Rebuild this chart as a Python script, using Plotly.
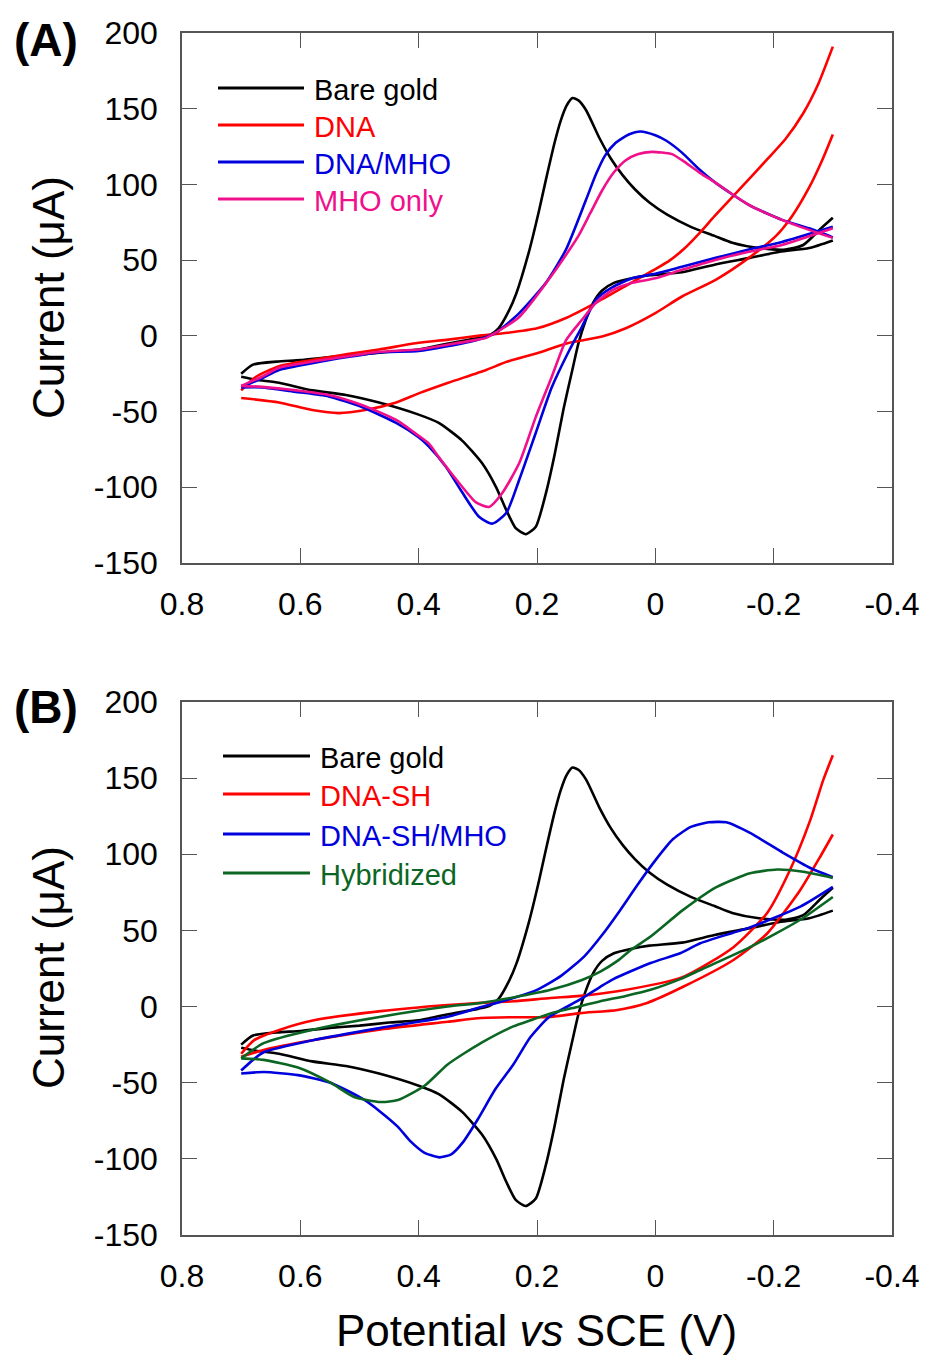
import plotly.graph_objects as go

# ---------------- data (potential in V, current in uA) ----------------
# Bare gold (identical in both panels)
bare_fwd_E = [0.70, 0.68, 0.64, 0.60, 0.55, 0.50, 0.45, 0.40, 0.35, 0.30, 0.28, 0.265, 0.247, 0.235, 0.214,
              0.197, 0.185, 0.17, 0.16, 0.15, 0.14, 0.13, 0.117, 0.095, 0.075, 0.055, 0.035, 0.01, -0.02,
              -0.06, -0.10, -0.13, -0.175, -0.22, -0.25, -0.28, -0.30]
bare_fwd_I = [-25, -19, -17, -16, -14, -12.5, -10.5, -9, -5, -1.5, 0.5, 5, 17, 28, 55,
              82, 103, 128, 142, 152, 157, 155.5, 149, 131, 117, 106, 97, 88, 80,
              72, 66, 61.5, 58, 57, 60, 71, 78]
bare_rev_E = [-0.30, -0.26, -0.21, -0.16, -0.10, -0.045, 0.01, 0.04, 0.07, 0.09, 0.105, 0.118, 0.13, 0.14,
              0.155, 0.17, 0.185, 0.202, 0.219, 0.236, 0.252, 0.269, 0.293, 0.327, 0.366, 0.40, 0.467,
              0.523, 0.58, 0.636, 0.675, 0.70]
bare_rev_I = [63, 58, 55.5, 51.5, 47, 42, 40, 38, 35, 30, 22, 10, -5, -22,
              -48, -78, -104, -126, -131, -127, -115, -100, -84, -69, -57.5, -52, -44,
              -39, -36, -31, -29, -27]

# Panel A: DNA
dna_fwd_E = [0.70, 0.675, 0.636, 0.58, 0.52, 0.467, 0.40, 0.35, 0.30, 0.25, 0.20, 0.15, 0.10, 0.05, 0.0,
             -0.025, -0.05, -0.075, -0.10, -0.15, -0.19, -0.22, -0.25, -0.275, -0.30]
dna_fwd_I = [-36, -27, -20, -16, -12, -9, -4.6, -2.5, 0, 2, 5, 12, 22, 33, 44,
             50, 58, 68, 79, 100, 117, 130, 147, 166, 191]
dna_rev_E = [-0.30, -0.282, -0.26, -0.231, -0.204, -0.158, -0.102, -0.045, 0.0, 0.05, 0.09, 0.15, 0.20,
             0.25, 0.286, 0.35, 0.40, 0.438, 0.49, 0.535, 0.58, 0.636, 0.70]
dna_rev_I = [133, 116, 98, 79, 66, 51.5, 37, 26, 15, 5, -0.5, -5, -11.5,
             -17, -22.5, -31, -38, -44, -49, -51, -49, -44, -41]

# Panel A: DNA/MHO
dnamho_fwd_E = [0.70, 0.665, 0.636, 0.58, 0.52, 0.467, 0.40, 0.354, 0.30, 0.27, 0.23, 0.185, 0.151,
                0.117, 0.10, 0.085, 0.067, 0.045, 0.025, 0.0, -0.018, -0.045, -0.074, -0.102, -0.158,
                -0.214, -0.26, -0.30]
dnamho_fwd_I = [-34, -28, -22.5, -18, -14, -11, -10, -7, -2.5, 2, 15, 35, 57,
                90, 107, 119, 127.5, 133, 135, 132.5, 129, 121, 110, 101, 86.5,
                76.6, 71, 65]
dnamho_rev_E = [-0.30, -0.214, -0.158, -0.102, -0.045, 0.0, 0.039, 0.073, 0.10, 0.124, 0.146, 0.175,
                0.202, 0.23, 0.252, 0.276, 0.298, 0.327, 0.354, 0.383, 0.40, 0.438, 0.496, 0.552, 0.607,
                0.665, 0.70]
dnamho_rev_I = [72, 62, 57, 51.5, 45.6, 41, 38, 32, 24, 6, -10, -34,
                -64, -95, -117, -124, -119.5, -103, -86.5, -73, -67, -57.5, -47, -40, -37,
                -34, -34]

# Panel A: MHO only
mho_fwd_E = [0.70, 0.665, 0.636, 0.58, 0.52, 0.467, 0.40, 0.354, 0.30, 0.286, 0.23, 0.175, 0.15, 0.13,
             0.11, 0.09, 0.07, 0.05, 0.03, 0.006, -0.028, -0.045, -0.074, -0.102, -0.158, -0.214, -0.26,
             -0.30]
mho_fwd_I = [-33, -27, -21, -17, -13.5, -10.5, -9, -6, -2.5, -1.3, 12.5, 40, 54, 66,
             81, 96, 108, 116, 120, 121.5, 120, 116, 108, 101, 86.5, 76.6, 70,
             64.7]
mho_rev_E = [-0.30, -0.214, -0.158, -0.10, -0.045, 0.0, 0.039, 0.073, 0.10, 0.124, 0.151, 0.175, 0.202,
             0.23, 0.259, 0.281, 0.303, 0.332, 0.366, 0.383, 0.40, 0.438, 0.496, 0.552, 0.607, 0.665, 0.70]
mho_rev_I = [71, 60, 55.5, 50, 43.6, 38, 35, 30, 22, 10.6, -3, -27, -53.5,
             -84, -104, -113, -110, -97, -80, -71, -66, -55.5, -45.6, -39, -36, -33.7, -33]

# Panel B: DNA-SH
dnash_fwd_E = [0.70, 0.678, 0.633, 0.577, 0.464, 0.351, 0.295, 0.24, 0.177, 0.127, 0.064, -0.047,
               -0.132, -0.189, -0.228, -0.262, -0.284, -0.30]
dnash_fwd_I = [-31, -22, -15, -9, -3, 1, 2.4, 3.5, 5.6, 7, 10, 19.5,
               39, 61.5, 90, 122.6, 149, 165]
dnash_rev_E = [-0.30, -0.278, -0.245, -0.189, -0.132, -0.047, 0.014, 0.064, 0.127, 0.177, 0.24, 0.295,
               0.351, 0.464, 0.577, 0.662, 0.70]
dnash_rev_I = [113, 98, 76.6, 48, 30.6, 13, 2.4, -2.2, -4.3, -6.8, -7, -7.5,
               -10, -15, -22, -28.5, -33]

# Panel B: DNA-SH/MHO
dnashmho_fwd_E = [0.70, 0.68, 0.662, 0.577, 0.464, 0.351, 0.30, 0.24, 0.20, 0.16, 0.12, 0.09, 0.06,
                  0.03, 0.0, -0.03, -0.06, -0.09, -0.12, -0.16, -0.216, -0.262, -0.30]
dnashmho_fwd_I = [-42, -35, -30, -22, -14, -6.7, -1, 5.6, 11, 20, 33, 47, 63,
                  80, 96, 110, 118, 121, 121, 114, 101, 91, 85]
dnashmho_rev_E = [-0.30, -0.245, -0.16, -0.076, -0.042, 0.008, 0.071, 0.093, 0.13, 0.18, 0.211, 0.24,
                  0.27, 0.30, 0.325, 0.345, 0.365, 0.39, 0.415, 0.435, 0.465, 0.493, 0.549, 0.604, 0.662, 0.70]
dnashmho_rev_I = [78.6, 65.6, 52, 41.6, 35, 28.6, 18, 13, 4, -7, -20, -38,
                  -54, -74, -89, -97, -99, -96, -88, -79, -69, -61, -50, -45, -43, -44]

# Panel B: Hybridized
hyb_fwd_E = [0.70, 0.662, 0.577, 0.464, 0.351, 0.295, 0.24, 0.177, 0.124, 0.093, 0.064, 0.042, 0.008,
             -0.047, -0.104, -0.16, -0.206, -0.25, -0.30]
hyb_fwd_I = [-34, -24, -15, -6.7, 0, 2.4, 6, 11, 17.5, 23, 30, 37, 46,
             63.5, 78.6, 87.5, 90, 88.5, 84.5]
hyb_rev_E = [-0.30, -0.245, -0.16, -0.076, -0.042, 0.008, 0.05, 0.093, 0.14, 0.177, 0.211, 0.24, 0.295,
             0.351, 0.39, 0.435, 0.464, 0.509, 0.549, 0.604, 0.662, 0.70]
hyb_rev_I = [72, 57, 39, 24, 18, 11, 7, 3.5, -1, -4.5, -9, -13, -24,
             -38, -52, -61.4, -62.7, -59.4, -50, -40, -35, -34]

names_A = ["Bare gold", "DNA", "DNA/MHO", "MHO only"]
colors_A = ["#000000", "#FF0000", "#0000DD", "#F0108C"]
names_B = ["Bare gold", "DNA-SH", "DNA-SH/MHO", "Hybridized"]
colors_B = ["#000000", "#FF0000", "#0000DD", "#0B6623"]

y_ticks = [-150, -100, -50, 0, 50, 100, 150, 200]
y_ticklabels = ["-150", "-100", "-50", "0", "50", "100", "150", "200"]
x_ticks = [0.8, 0.6, 0.4, 0.2, 0, -0.2, -0.4]
x_ticklabels = ["0.8", "0.6", "0.4", "0.2", "0", "-0.2", "-0.4"]

curves_A = [(bare_fwd_E, bare_fwd_I, bare_rev_E, bare_rev_I),
            (dna_fwd_E, dna_fwd_I, dna_rev_E, dna_rev_I),
            (dnamho_fwd_E, dnamho_fwd_I, dnamho_rev_E, dnamho_rev_I),
            (mho_fwd_E, mho_fwd_I, mho_rev_E, mho_rev_I)]
curves_B = [(bare_fwd_E, bare_fwd_I, bare_rev_E, bare_rev_I),
            (dnash_fwd_E, dnash_fwd_I, dnash_rev_E, dnash_rev_I),
            (dnashmho_fwd_E, dnashmho_fwd_I, dnashmho_rev_E, dnashmho_rev_I),
            (hyb_fwd_E, hyb_fwd_I, hyb_rev_E, hyb_rev_I)]

# ---------------- figure ----------------
W, H = 925, 1356
ML, MR, MT, MB = 182, 33, 33, 121
FONT = "Liberation Sans, Arial, sans-serif"


def px2x(px):
    return (px - ML) / (W - ML - MR)


def py2y(py):
    return (H - MB - py) / (H - MT - MB)


fig = go.Figure()
for curves, names, colors, xa_name, ya_name in [(curves_A, names_A, colors_A, "x", "y"),
                                                (curves_B, names_B, colors_B, "x2", "y2")]:
    for (fE, fI, rE, rI), name, col in zip(curves, names, colors):
        # forward and reverse sweeps are drawn unconnected at the -0.3 V vertex
        E = fE + [None] + rE
        I = fI + [None] + rI
        fig.add_trace(go.Scatter(x=E, y=I, mode="lines", name=name, showlegend=False,
                                 connectgaps=False,
                                 line=dict(color=col, width=2.6, shape="spline", smoothing=0.6),
                                 xaxis=xa_name, yaxis=ya_name))

axis_common = dict(showgrid=False, zeroline=False, showline=True, linecolor="#555555", linewidth=1.6,
                   mirror="ticks", ticks="inside", ticklen=15, tickwidth=1.4, tickcolor="#555555",
                   automargin=False,
                   tickfont=dict(family=FONT, size=32, color="#000000"))

xa = dict(axis_common, range=[0.8, -0.4], tickvals=x_ticks, ticktext=x_ticklabels, ticklabelstandoff=12)
ya = dict(axis_common, range=[-150, 200], tickvals=y_ticks, ticktext=y_ticklabels, ticklabelstandoff=16)

fig.update_layout(
    width=W, height=H, margin=dict(l=ML, r=MR, t=MT, b=MB, autoexpand=False),
    paper_bgcolor="white", plot_bgcolor="white", showlegend=False,
    xaxis=dict(xa, domain=[0, 1], anchor="y"),
    yaxis=dict(ya, domain=[py2y(563), 1], anchor="x"),
    xaxis2=dict(xa, domain=[0, 1], anchor="y2"),
    yaxis2=dict(ya, domain=[0, py2y(702)], anchor="x2"),
)

annotations = []
shapes = []
# manual legends
for names, colors, x0, x1, ys in [(names_A, colors_A, 218, 304, [88, 125, 162, 199]),
                                  (names_B, colors_B, 223, 310, [756, 794, 834, 873])]:
    for name, col, yy in zip(names, colors, ys):
        shapes.append(dict(type="line", xref="paper", yref="paper", x0=px2x(x0), x1=px2x(x1),
                           y0=py2y(yy), y1=py2y(yy), line=dict(color=col, width=3)))
        annotations.append(dict(text=name, xref="paper", yref="paper", x=px2x(x1 + 8), y=py2y(yy + 2),
                                xanchor="left", yanchor="middle", showarrow=False,
                                font=dict(family=FONT, size=29, color=col)))

# panel labels
for lab, cy in [("(A)", 40), ("(B)", 707)]:
    annotations.append(dict(text="<b>" + lab + "</b>", xref="paper", yref="paper", x=px2x(46), y=py2y(cy),
                            xanchor="center", yanchor="middle", showarrow=False,
                            font=dict(family=FONT, size=46, color="#000000")))
# y titles
for cy in [298, 968]:
    annotations.append(dict(text="Current (μA)", xref="paper", yref="paper", x=px2x(48), y=py2y(cy),
                            xanchor="center", yanchor="middle", textangle=-90, showarrow=False,
                            font=dict(family=FONT, size=44, color="#000000")))
# x title
annotations.append(dict(text="Potential <i>vs</i> SCE (V)", xref="paper", yref="paper", x=px2x(536),
                        y=py2y(1330), xanchor="center", yanchor="middle", showarrow=False,
                        font=dict(family=FONT, size=44, color="#000000")))

fig.update_layout(annotations=annotations, shapes=shapes)
fig.write_html("out.html", config={"displayModeBar": False},
               post_script="document.body.style.margin='0px';document.body.style.padding='0px';")
